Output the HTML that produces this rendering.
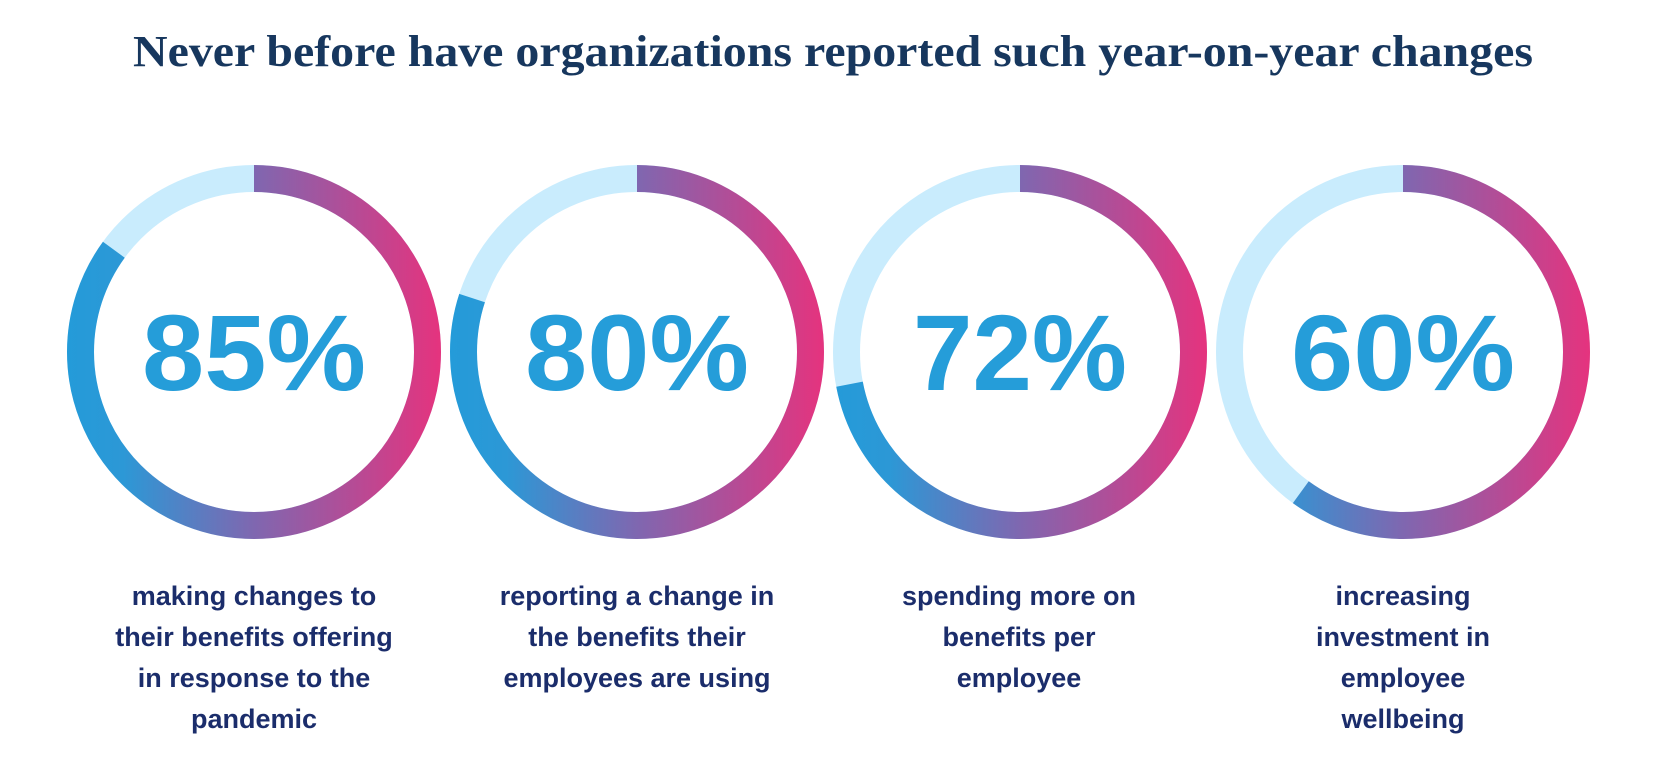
<!DOCTYPE html>
<html><head><meta charset="utf-8"><style>
html,body{margin:0;padding:0;background:#fff;width:1666px;height:766px;overflow:hidden}
</style></head><body>
<svg width="1666" height="766" viewBox="0 0 1666 766" xmlns="http://www.w3.org/2000/svg">
<defs>
<linearGradient id="g" x1="0" y1="-187" x2="0" y2="187" gradientUnits="userSpaceOnUse">
<stop offset="0" stop-color="#249bd9"/><stop offset="0.15" stop-color="#2c98d6"/><stop offset="0.5" stop-color="#7f67b0"/><stop offset="1" stop-color="#e5337e"/>
</linearGradient>
</defs>
<text x="833" y="66" text-anchor="middle" font-family="Liberation Serif, serif" font-weight="bold" font-size="44" fill="#17375e" textLength="1400" lengthAdjust="spacingAndGlyphs">Never before have organizations reported such year-on-year changes</text>

<g font-family="Liberation Sans, sans-serif" font-weight="bold">
<g transform="translate(254,352)">
<circle r="173.5" fill="none" stroke="#c9ecfd" stroke-width="27"/>
<circle r="173.5" fill="none" stroke="url(#g)" stroke-width="27" stroke-dasharray="926.6 2000" transform="rotate(-90)"/>
<text y="38" text-anchor="middle" font-size="108" fill="#259dd9" textLength="224" lengthAdjust="spacingAndGlyphs">85%</text>
</g>
<g transform="translate(637,352)">
<circle r="173.5" fill="none" stroke="#c9ecfd" stroke-width="27"/>
<circle r="173.5" fill="none" stroke="url(#g)" stroke-width="27" stroke-dasharray="872.1 2000" transform="rotate(-90)"/>
<text y="38" text-anchor="middle" font-size="108" fill="#259dd9" textLength="224" lengthAdjust="spacingAndGlyphs">80%</text>
</g>
<g transform="translate(1020,352)">
<circle r="173.5" fill="none" stroke="#c9ecfd" stroke-width="27"/>
<circle r="173.5" fill="none" stroke="url(#g)" stroke-width="27" stroke-dasharray="784.9 2000" transform="rotate(-90)"/>
<text y="38" text-anchor="middle" font-size="108" fill="#259dd9" textLength="214" lengthAdjust="spacingAndGlyphs">72%</text>
</g>
<g transform="translate(1403,352)">
<circle r="173.5" fill="none" stroke="#c9ecfd" stroke-width="27"/>
<circle r="173.5" fill="none" stroke="url(#g)" stroke-width="27" stroke-dasharray="654.1 2000" transform="rotate(-90)"/>
<text y="38" text-anchor="middle" font-size="108" fill="#259dd9" textLength="224" lengthAdjust="spacingAndGlyphs">60%</text>
</g>

<g font-size="27" fill="#1b2d6b" text-anchor="middle">
<text x="254" y="605">making changes to</text>
<text x="254" y="646">their benefits offering</text>
<text x="254" y="687">in response to the</text>
<text x="254" y="728">pandemic</text>
<text x="637" y="605">reporting a change in</text>
<text x="637" y="646">the benefits their</text>
<text x="637" y="687">employees are using</text>
<text x="1019" y="605">spending more on</text>
<text x="1019" y="646">benefits per</text>
<text x="1019" y="687">employee</text>
<text x="1403" y="605">increasing</text>
<text x="1403" y="646">investment in</text>
<text x="1403" y="687">employee</text>
<text x="1403" y="728">wellbeing</text>
</g>
</g>
</svg>
</body></html>
